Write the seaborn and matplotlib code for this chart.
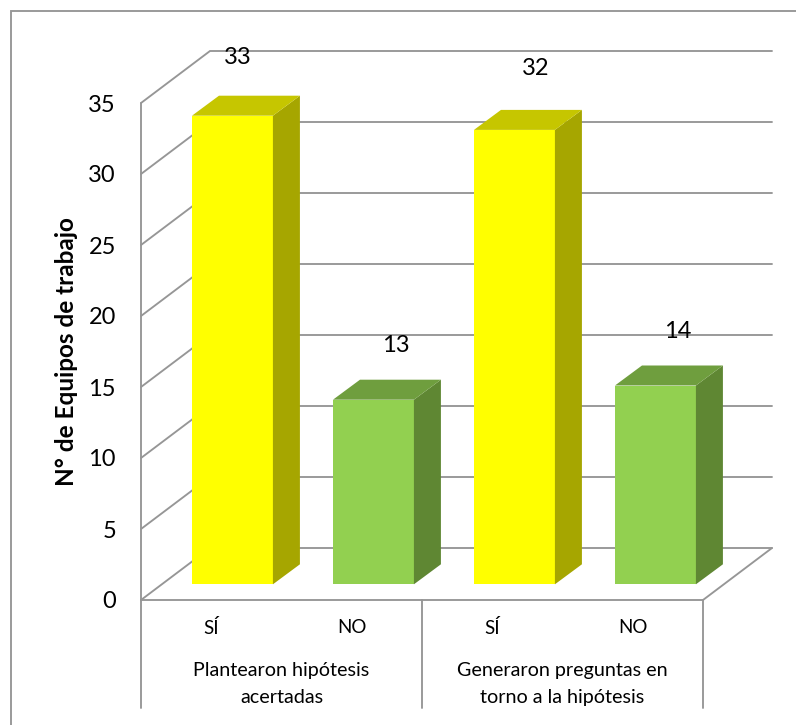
import matplotlib
matplotlib.use("Agg")
import matplotlib.pyplot as plt
from matplotlib.lines import Line2D
from matplotlib.patches import Polygon
import pandas as pd
import seaborn as sns

groups = ["Plantearon hipótesis\nacertadas", "Generaron preguntas en\ntorno a la hipótesis"]
answers = ["SÍ", "NO", "SÍ", "NO"]
values = [33, 13, 32, 14]
y_ticks = [0, 5, 10, 15, 20, 25, 30, 35]
y_title = "N° de Equipos de trabajo"

W, H = 796, 725
sns.set_theme(style="white")
plt.rcParams["font.family"] = ["Lato", "DejaVu Sans"]

fig = plt.figure(figsize=(W / 100, H / 100), dpi=100, facecolor="white")
L, R, T, B = 141, 703, 103, 600
ax = fig.add_axes([L / W, 1 - B / H, (R - L) / W, (B - T) / H])
ax.patch.set_alpha(0)

PX = 4 / (R - L)      # x data units per pixel
PY = 35 / (B - T)     # y data units per pixel
GRID = "#969696"
LW = 1.35

df = pd.DataFrame({"key": [f"{i}{a}" for i, a in enumerate(answers)],
                   "answer": answers, "value": values})
front = {"SÍ": "#FFFF00", "NO": "#92D050"}
top = {"SÍ": "#C6C600", "NO": "#6F9E3E"}
side = {"SÍ": "#A6A600", "NO": "#5F8733"}

sns.barplot(data=df, x="key", y="value", hue="answer", palette=front, order=df["key"],
            dodge=False, width=0.576, legend=False, saturation=1, ax=ax, zorder=3)
ax.set_xlim(-0.5, 3.5)
ax.set_ylim(0, 35)

# walls and floor
wx, wy = 69 * PX, 52 * PY
for v in y_ticks:
    ax.plot([-0.5, -0.5 + wx, 3.5 + wx], [v, v + wy, v + wy], color=GRID, lw=LW, clip_on=False, zorder=1,
            solid_joinstyle="miter")
ax.plot([-0.5, 3.5, 3.5 + wx], [0, 0, wy], color=GRID, lw=LW, clip_on=False, zorder=2, solid_joinstyle="miter")
ax.plot([-0.5, -0.5], [35, -108 * PY], color=GRID, lw=LW, clip_on=False, zorder=2)
for x in (1.5, 3.5):
    ax.plot([x, x], [0, -108 * PY], color=GRID, lw=LW, clip_on=False, zorder=2)

# bars in depth
ox, oy = 21.2 * PX, 15.7 * PY
dx, dy = 27 * PX, 20 * PY
label_shift = [(5.5, 57.7), (22.5, 54.7), (21.5, 61), (22.5, 54.5)]
bars = sorted(ax.patches, key=lambda p: p.get_x())
for i, (p, a, v, (sx, sy)) in enumerate(zip(bars, answers, values, label_shift)):
    p.set_x(p.get_x() + ox + i * 0.5 * PX)
    p.set_y(oy)
    p.set_linewidth(0)
    p.set_clip_on(False)
    x0, x1 = p.get_x(), p.get_x() + p.get_width()
    y0, y1 = oy, oy + p.get_height()
    ax.add_patch(Polygon([(x1, y0), (x1 + dx, y0 + dy), (x1 + dx, y1 + dy), (x1, y1)],
                         fc=side[a], ec="none", zorder=3, clip_on=False))
    ax.add_patch(Polygon([(x0, y1), (x0 + dx, y1 + dy), (x1 + dx, y1 + dy), (x1, y1)],
                         fc=top[a], ec="none", zorder=3, clip_on=False))
    ax.text((x0 + x1) / 2 + sx * PX, y1 + sy * PY, str(v), ha="center", va="center",
            fontsize=17, color="black", zorder=5, clip_on=False)

for s in ax.spines.values():
    s.set_visible(False)
ax.set_yticks(y_ticks)
ax.set_xticks(range(4), answers)
ax.set_xlabel("")
ax.tick_params(axis="y", length=0, pad=18, labelsize=17, labelcolor="black")
ax.tick_params(axis="x", length=0, pad=14, labelsize=13.5, labelcolor="black")
ax.set_ylabel(y_title, fontsize=17.5, fontweight="bold", color="black")
ax.yaxis.set_label_coords((67 - L) / (R - L), (B - 352) / (B - T))
ax.yaxis.label.set_va("center")

for cx, g in zip((0.5, 2.5), groups):
    ax.text(cx, -84 * PY, g, ha="center", va="center", fontsize=14.2, color="black",
            linespacing=1.72, clip_on=False)

# outer frame, cut by the picture's right and bottom edges
fig.add_artist(Line2D([11 / W, 11 / W, 1], [0, 1 - 11 / H, 1 - 11 / H], color=GRID, lw=LW,
                      solid_joinstyle="miter"))

fig.savefig("out.png", dpi=100, facecolor="white")
